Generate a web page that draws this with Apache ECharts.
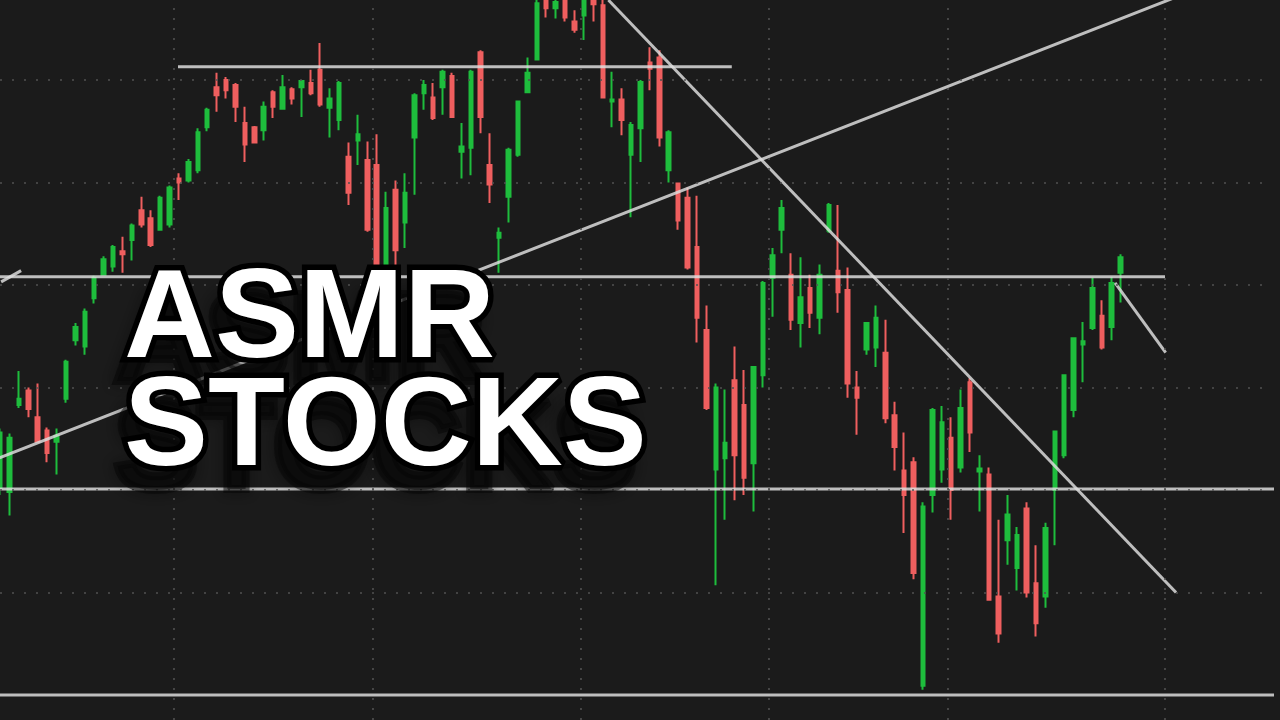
<!DOCTYPE html>
<html>
<head>
<meta charset="utf-8">
<style>
  html, body { margin: 0; padding: 0; background: #1b1b1b; }
  #chart { width: 1280px; height: 720px; }
</style>
<script src="https://cdn.jsdelivr.net/npm/echarts@6/dist/echarts.min.js"></script>
</head>
<body>
<div id="chart"></div>
<script>
// ---- data (price units) ----
const sessionCount = 120;   // candles shown (first one is cut by the left edge)
const emptySlots = 16;      // empty sessions to the right of the last candle

const opens = [4202,4198,4283,4297,4271,4258,4247,4289,4346,4340,
4387,4410,4418,4433,4444,4473,4465,4454,4459,4504,
4502,4512,4554,4593,4600,4595,4558,4554,4551,4588,
4572,4591,4593,4597,4610,4573,4561,4525,4541,4522,
4517,4417,4493,4461,4544,4587,4583,4593,4604,4530,
4534,4627,4517,4446,4486,4527,4588,4620,4680,4670,
4680,4657,4663,4679,4673,4579,4581,4527,4553,4617,
4622,4512,4499,4485,4437,4356,4220,4231,4307,4283,
4226,4312,4407,4454,4410,4363,4397,4368,4453,4414,
4395,4300,4337,4339,4334,4273,4219,4227,4009,4195,
4220,4251,4222,4305,4218,4215,4096,4151,4124,4182,
4109,4096,4200,4234,4278,4342,4358,4370,4359,4412];

const closes = [4256,4251,4289,4279,4247,4236,4253,4325,4359,4374,
4407,4425,4437,4430,4458,4459,4439,4485,4495,4500,
4520,4549,4571,4585,4590,4574,4537,4539,4574,4574,
4593,4582,4599,4587,4576,4582,4597,4490,4547,4454,
4417,4475,4434,4490,4585,4595,4563,4608,4564,4535,
4608,4564,4498,4451,4532,4579,4607,4675,4670,4676,
4661,4649,4680,4674,4583,4581,4561,4556,4598,4611,
4544,4549,4463,4417,4368,4280,4300,4246,4234,4212,
4320,4402,4429,4475,4366,4388,4373,4410,4478,4393,
4304,4290,4363,4368,4270,4242,4195,4119,4184,4278,
4266,4200,4280,4256,4221,4093,4060,4176,4156,4100,
4070,4163,4257,4312,4348,4345,4397,4339,4402,4427];

const lows = [4195,4175,4280,4271,4246,4227,4215,4285,4341,4332,
4382,4409,4413,4412,4424,4456,4437,4454,4456,4483,
4500,4509,4550,4569,4582,4559,4520,4538,4541,4563,
4571,4576,4564,4585,4574,4544,4551,4478,4517,4452,
4400,4410,4418,4436,4488,4571,4561,4566,4563,4504,
4507,4548,4480,4412,4461,4525,4587,4620,4661,4660,
4657,4646,4639,4657,4582,4554,4546,4466,4520,4590,
4535,4500,4454,4415,4344,4278,4107,4171,4190,4195,
4179,4300,4369,4431,4356,4339,4358,4352,4451,4373,
4290,4254,4332,4320,4265,4219,4158,4113,4005,4178,
4207,4171,4217,4237,4179,4093,4051,4127,4102,4095,
4057,4085,4146,4231,4271,4305,4356,4337,4346,4383];

const highs = [4260,4255,4316,4300,4304,4261,4260,4327,4363,4377,
4409,4428,4439,4447,4460,4486,4473,4487,4497,4509,
4523,4553,4573,4607,4603,4597,4574,4555,4579,4590,
4605,4593,4600,4610,4636,4592,4599,4539,4566,4540,
4547,4491,4502,4509,4587,4600,4597,4610,4607,4558,
4610,4629,4548,4456,4534,4580,4622,4680,4684,4681,
4684,4668,4683,4682,4680,4608,4592,4559,4600,4632,
4629,4551,4500,4495,4487,4380,4304,4298,4340,4317,
4321,4404,4436,4483,4431,4427,4410,4420,4480,4478,
4417,4316,4364,4380,4366,4286,4256,4232,4188,4280,
4282,4271,4298,4309,4234,4222,4171,4195,4164,4188,
4146,4168,4257,4312,4348,4364,4407,4385,4408,4430];

// drawn levels / trend lines: [session index, price]
const resistanceTop = [[18.9, 4613], [77.7, 4613]];
const levelMid      = [[-0.5, 4408], [123.7, 4408]];
const levelLow      = [[-0.5, 4201], [136, 4201]];
const levelFloor    = [[-0.5, 4000], [136, 4000]];
const upTrend       = [[-0.41, 4230], [127.4, 4690]];
const downTrend     = [[64.6, 4678], [124.87, 4100]];
const pullback      = [[118.4, 4402], [123.77, 4334]];
const stubLeft      = [[0.12, 4403], [2.24, 4414]];
const monthBreaks   = [18.47, 39.58, 61.64, 81.59, 100.68, 123.70];
const priceGrid     = [4100, 4200, 4300, 4400, 4500, 4600];
const priceRange    = [3975.6, 4678.05];

const titleLines = ['ASMR', 'STOCKS'];

// ---- build ----
const slotCount = sessionCount + emptySlots;
const categories = [];
for (let i = 0; i < slotCount; i++) categories.push('S' + (i + 1));
const ohlc = opens.map((o, i) => [o, closes[i], lows[i], highs[i]]);

const lineColor = 'rgba(222,222,222,0.84)';
function levelSeries(name, pts) {
  return {
    name, type: 'line', xAxisIndex: 1, yAxisIndex: 0, data: pts,
    symbol: 'none', silent: true, z: 4, clip: false,
    lineStyle: { color: lineColor, width: 3 }
  };
}

const chart = echarts.init(document.getElementById('chart'), null, { renderer: 'canvas' });
const FONT = 'bold 126px "Liberation Sans", Arial, sans-serif';
const textLayers = [];
const textY = [322, 430];
// soft drop shadow (ghost text below/left)
titleLines.forEach((t, k) => {
  textLayers.push({
    type: 'text', x: 124 - 10, y: textY[k] + 24, z: 99,
    style: {
      text: t, font: FONT, align: 'left', verticalAlign: 'middle',
      fill: 'rgba(5,5,5,0.5)', stroke: 'rgba(5,5,5,0.5)', lineWidth: 8, lineJoin: 'round',
      shadowBlur: 12, shadowColor: 'rgba(0,0,0,0.5)',
      textShadowBlur: 12, textShadowColor: 'rgba(0,0,0,0.5)'
    }
  });
});
// black outline
titleLines.forEach((t, k) => {
  textLayers.push({
    type: 'text', x: 124, y: textY[k], z: 100,
    style: {
      text: t, font: FONT, align: 'left', verticalAlign: 'middle',
      fill: '#000', stroke: '#000', lineWidth: 11, lineJoin: 'round'
    }
  });
});
// white face
titleLines.forEach((t, k) => {
  textLayers.push({
    type: 'text', x: 124, y: textY[k], z: 101,
    style: { text: t, font: FONT, align: 'left', verticalAlign: 'middle', fill: '#ffffff' }
  });
});

const gridDot = { color: '#515151', width: 1.6 };

chart.setOption({
  animation: false,
  backgroundColor: '#1b1b1b',
  grid: { left: 0, right: 1280 - (slotCount - 1) * 9.418, top: 0, bottom: 0, containLabel: false },
  xAxis: [
    { type: 'category', data: categories, boundaryGap: false,
      axisLine: { show: false }, axisTick: { show: false }, axisLabel: { show: false },
      splitLine: { show: false } },
    { type: 'value', min: 0, max: slotCount - 1, show: false,
      splitLine: { show: false } }
  ],
  yAxis: {
    type: 'value', min: priceRange[0], max: priceRange[1],
    axisLine: { show: false }, axisTick: { show: false }, axisLabel: { show: false },
    splitLine: { show: false }
  },
  series: [
    {
      name: 'grid', type: 'line', xAxisIndex: 1, data: [[0, 3980]],
      symbol: 'none', silent: true, z: 1, lineStyle: { opacity: 0 },
      markLine: {
        silent: true, symbol: ['none', 'none'], label: { show: false },
        data: monthBreaks.map(v => ({ xAxis: v, lineStyle: Object.assign({ type: [2, 8] }, gridDot) }))
          .concat(priceGrid.map(v => ({ yAxis: v, lineStyle: Object.assign({ type: [2, 10] }, gridDot) })))
      }
    },
    {
      name: 'price', type: 'candlestick', data: ohlc, z: 2,
      barWidth: 4,
      itemStyle: {
        color: '#1ebd3d', color0: '#ef5f5f',
        borderColor: '#1ebd3d', borderColor0: '#ef5f5f', borderWidth: 2
      }
    },
    levelSeries('resistanceTop', resistanceTop),
    levelSeries('levelMid', levelMid),
    levelSeries('levelLow', levelLow),
    levelSeries('levelFloor', levelFloor),
    levelSeries('upTrend', upTrend),
    levelSeries('downTrend', downTrend),
    levelSeries('pullback', pullback),
    levelSeries('stubLeft', stubLeft)
  ],
  graphic: textLayers
});
</script>
</body>
</html>
